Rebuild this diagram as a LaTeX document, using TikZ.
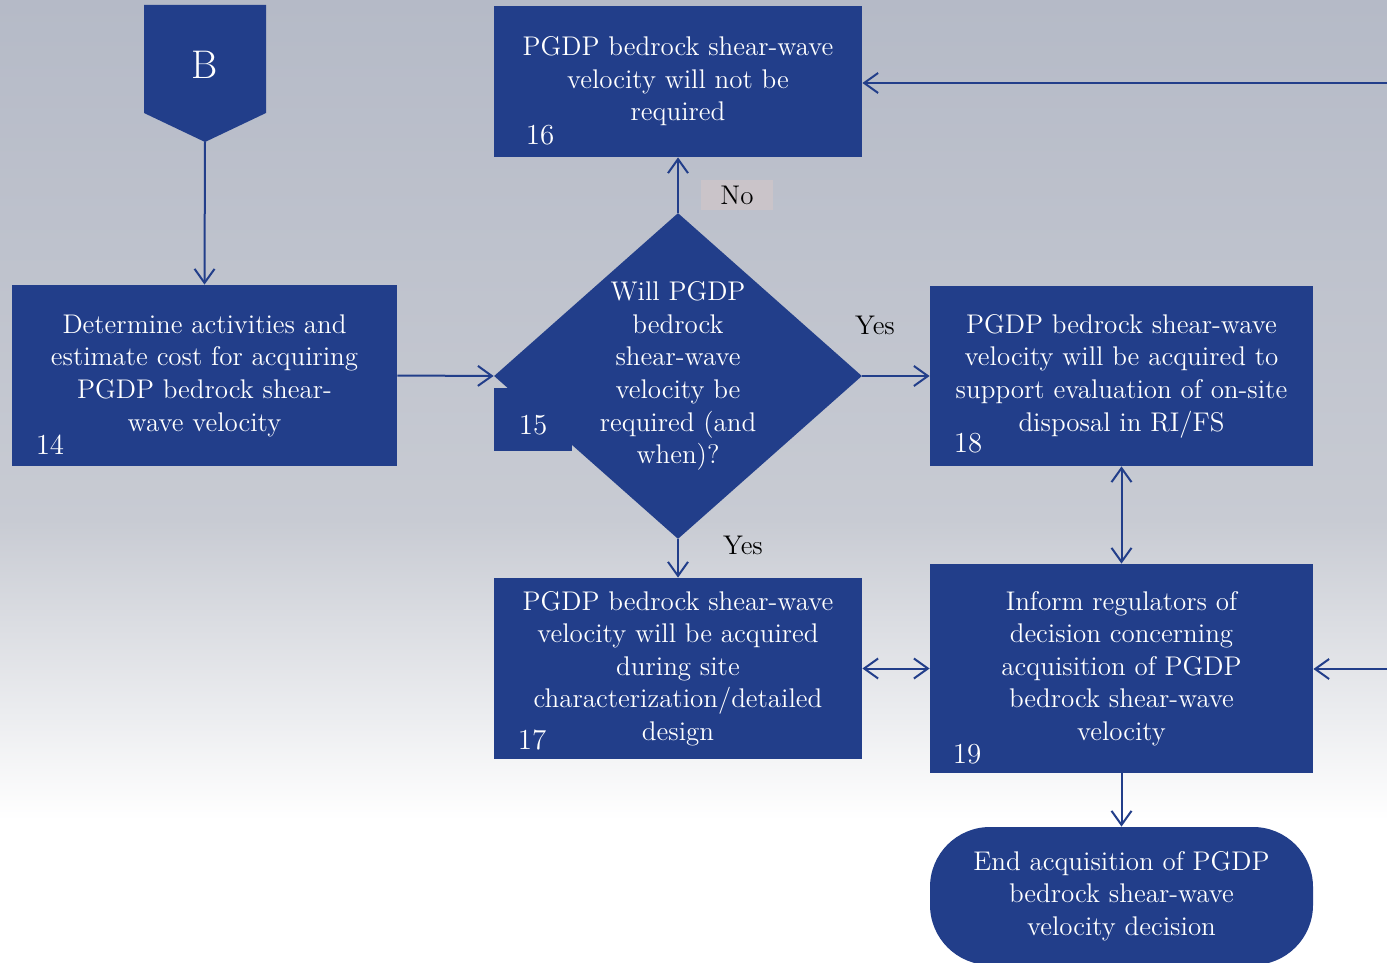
\documentclass[tikz,border=0pt]{standalone}
\usetikzlibrary{shapes.geometric,arrows.meta}
\definecolor{boxblue}{RGB}{34,62,138}
\definecolor{bgtop}{RGB}{181,186,199}
\definecolor{bgmid}{RGB}{200,203,211}
\definecolor{nobg}{RGB}{202,196,201}
\begin{document}
\begin{tikzpicture}[x=0.5pt,y=-0.5pt,
  every node/.style={font=\fontsize{13.5}{16.3}\selectfont},
  bluebox/.style={rectangle,fill=boxblue,text=white,align=center,inner sep=0pt},
  numlbl/.style={text=white,inner sep=0pt,font=\fontsize{14.5}{16}\selectfont},
  lbl/.style={text=black,inner sep=1pt},
  conn/.style={draw=boxblue,line width=1pt,-{Straight Barb[length=7pt,width=10pt]}},
  dconn/.style={draw=boxblue,line width=1pt,{Straight Barb[length=7pt,width=10pt]}-{Straight Barb[length=7pt,width=10pt]}}]
\useasboundingbox (0,0) rectangle (1387,963);
% background
\shade[top color=bgtop,bottom color=bgmid] (0,0) rectangle (1387,520);
\shade[top color=bgmid,bottom color=white] (0,520) rectangle (1387,820);
\fill[white] (0,820) rectangle (1387,963);
% B connector
\fill[boxblue] (144,5) -- (266,5) -- (266,113) -- (205,142) -- (144,113) -- cycle;
\node[text=white,inner sep=0pt,font=\fontsize{20}{22}\selectfont] (B) at (205,65) {B};
\coordinate (Btip) at (205,142);
% boxes
\node[bluebox,minimum width=192.5pt,minimum height=90.5pt] (b14) at (204.5,375.5)
  {Determine activities and\\estimate cost for acquiring\\PGDP bedrock shear-\\wave velocity};
\node[bluebox,minimum width=184pt,minimum height=75.5pt] (b16) at (678,81.5)
  {PGDP bedrock shear-wave\\velocity will not be\\required};
\node[diamond,fill=boxblue,inner sep=0pt,minimum width=184pt,minimum height=163pt] (d15) at (678,376) {};
\node[rectangle,fill=boxblue,inner sep=0pt,minimum width=39pt,minimum height=31.5pt] (sq15) at (533,419.5) {};
\node[text=white,align=center,inner sep=0pt] (t15) at (678,376)
  {Will PGDP\\bedrock\\shear-wave\\velocity be\\required (and\\when)?};
\node[bluebox,minimum width=191.5pt,minimum height=90pt] (b18) at (1121.5,376)
  {PGDP bedrock shear-wave\\velocity will be acquired to\\support evaluation of on-site\\disposal in RI/FS};
\node[bluebox,minimum width=184pt,minimum height=90.5pt] (b17) at (678,668.5)
  {PGDP bedrock shear-wave\\velocity will be acquired\\during site\\characterization/detailed\\design};
\node[bluebox,minimum width=191.5pt,minimum height=104.5pt] (b19) at (1121.5,668.5)
  {Inform regulators of\\decision concerning\\acquisition of PGDP\\bedrock shear-wave\\velocity};
\node[bluebox,rounded corners=30pt,minimum width=191.5pt,minimum height=69pt] (term) at (1121.5,896)
  {End acquisition of PGDP\\bedrock shear-wave\\velocity decision};
% numbers
\node[numlbl] (n14) at (50,445) {14};
\node[numlbl] (n15) at (533,425) {15};
\node[numlbl] (n16) at (540,135) {16};
\node[numlbl] (n17) at (532,740) {17};
\node[numlbl] (n18) at (968,443) {18};
\node[numlbl] (n19) at (967,754) {19};
% labels
\node[lbl,fill=nobg,minimum width=36pt,minimum height=15pt] (lno) at (737,195) {No};
\node[lbl] (lyes1) at (875,325) {Yes};
\node[lbl] (lyes2) at (743,545) {Yes};
% edge coordinates
\coordinate (r16) at (1387,83);
\coordinate (r19) at (1387,669);
% connectors
\draw[conn] (Btip) -- (b14.north);
\draw[conn] (b14.east) -- (d15.west);
\draw[conn] (d15.north) -- (b16.south);
\draw[conn] (d15.east) -- (b18.west);
\draw[conn] (d15.south) -- (b17.north);
\draw[dconn] (b18.south) -- (b19.north);
\draw[dconn] (b17.east) -- (b19.west);
\draw[conn] (b19.south) -- (term.north);
\draw[conn] (r16) -- (b16.east |- r16);
\draw[conn] (r19) -- (b19.east |- r19);
\end{tikzpicture}
\end{document}
